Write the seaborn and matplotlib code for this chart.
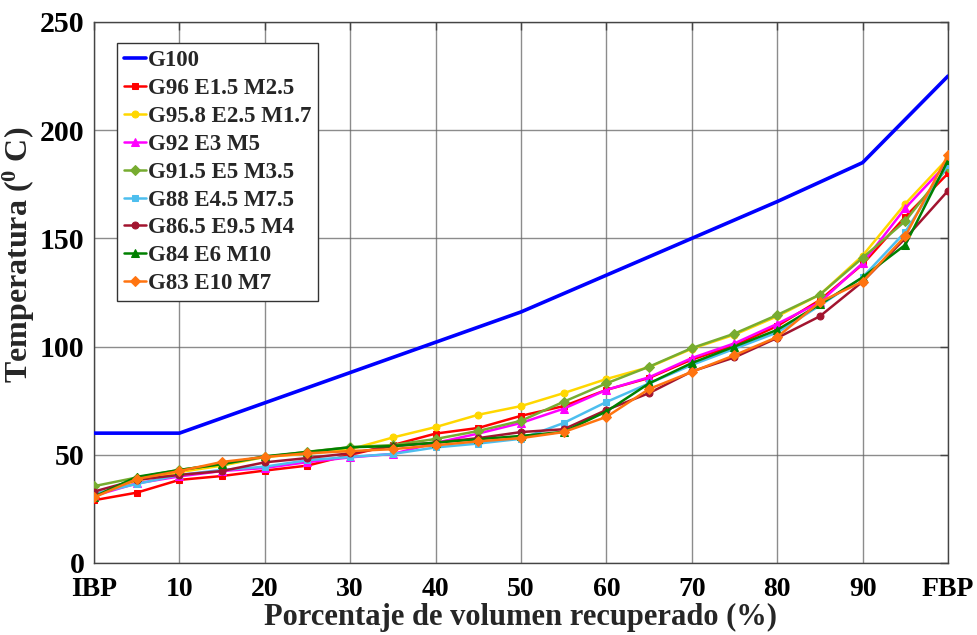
import matplotlib
matplotlib.use("Agg")
import matplotlib.pyplot as plt
import seaborn as sns
import pandas as pd

# Distillation curves: temperature vs. recovered volume
x_pct = [0, 5, 10, 15, 20, 25, 30, 35, 40, 45, 50, 55, 60, 65, 70, 75, 80, 85, 90, 95, 100]
x_g100 = [0, 10, 20, 30, 40, 50, 60, 70, 80, 90, 100]

g100 = [60, 60, 74, 88, 102, 116, 133, 150, 167, 185, 225]
g96 = [29, 32.5, 38.4, 40.2, 42.7, 45, 50, 54.5, 59.8, 62.4, 68, 72.5, 80, 85.5, 94, 100.5, 109.5, 121.5, 138, 160, 180]
g958 = [31, 38, 42, 45, 49, 50.5, 52.5, 58, 62.8, 68.5, 72.5, 78.5, 85, 90.5, 99, 105.5, 114, 124, 142, 166, 187]
g92 = [31, 36.8, 40, 42.5, 43.9, 46.6, 48.8, 50.4, 55.5, 59.8, 64.7, 71.3, 80, 85.8, 94.7, 101.5, 110.5, 120.5, 138.5, 164, 185]
g915 = [35.5, 39.5, 43, 45.7, 49, 51.4, 53.5, 54.5, 57.3, 61, 65.7, 74.5, 83, 90.7, 99.3, 106, 114.6, 124, 141, 158, 183]
g88 = [32, 36.5, 40.7, 43, 44.5, 47.5, 49, 50.4, 53.4, 55.2, 57.4, 64.7, 74.4, 83, 91.5, 99, 106.5, 119, 132, 153, 184]
g865 = [33, 38.4, 40.7, 42.5, 46.5, 48.5, 50.7, 54, 55.6, 57.7, 60.5, 61.8, 70.7, 78.5, 88.5, 95, 104, 114, 130, 150, 172]
g84 = [30.6, 39.8, 43, 45.7, 49.3, 51.3, 53.5, 54, 55.6, 57.2, 58.7, 60.6, 70, 83, 92.4, 100, 107.7, 119.5, 132, 147, 186]
g83 = [30.3, 38.8, 42.5, 46.7, 49, 50.7, 51.7, 52.6, 54.4, 56.2, 57.7, 60.5, 67.5, 80.4, 88.3, 96, 104.4, 120.6, 130, 151, 188.5]

blend_names = ["G96 E1.5 M2.5", "G95.8 E2.5 M1.7", "G92 E3 M5", "G91.5 E5 M3.5",
               "G88 E4.5 M7.5", "G86.5 E9.5 M4", "G84 E6 M10", "G83 E10 M7"]
blend_values = [g96, g958, g92, g915, g88, g865, g84, g83]
blend_colors = ["#ff0000", "#ffd700", "#ff00ff", "#77ac30", "#4dbeee", "#a2142f", "#008000", "#ff7410"]
blend_markers = ["s", "o", "^", "D", "s", "o", "^", "D"]

x_ticks = [0, 10, 20, 30, 40, 50, 60, 70, 80, 90, 100]
x_ticklabels = ["IBP", "10", "20", "30", "40", "50", "60", "70", "80", "90", "FBP"]
y_ticks = [0, 50, 100, 150, 200, 250]

sns.set_style("white")
plt.rcParams["font.family"] = ["Liberation Serif", "DejaVu Serif"]
plt.rcParams["font.weight"] = "bold"
plt.rcParams["mathtext.fontset"] = "custom"
plt.rcParams["mathtext.rm"] = "Liberation Serif:bold"
plt.rcParams["mathtext.bf"] = "Liberation Serif:bold"
plt.rcParams["mathtext.it"] = "Liberation Serif:bold"

fig = plt.figure(figsize=(9.77, 6.35), dpi=100)
ax = fig.add_axes([0.0962, 0.1134, 0.8741, 0.852])

df100 = pd.DataFrame({"x": x_g100, "y": g100})
sns.lineplot(data=df100, x="x", y="y", ax=ax, color="#0000ff", linewidth=2.6,
             label="G100", zorder=3)

for name, vals, col, mk in zip(blend_names, blend_values, blend_colors, blend_markers):
    d = pd.DataFrame({"x": x_pct, "y": vals})
    ms = 5.5 if mk in ("D", "^") else 5
    sns.lineplot(data=d, x="x", y="y", ax=ax, color=col, linewidth=1.8,
                 marker=mk, markersize=ms, markeredgecolor=col, markerfacecolor=col,
                 label=name, zorder=4)

ax.set_xlim(0, 100)
ax.set_ylim(0, 250)
ax.set_xticks(x_ticks)
ax.set_xticklabels(x_ticklabels)
ax.set_yticks(y_ticks)
ax.grid(True, color="#666666", linewidth=1.0, alpha=0.75)
ax.set_axisbelow(True)
for s in ax.spines.values():
    s.set_color("#444444")
    s.set_linewidth(1.0)
ax.tick_params(direction="in", length=6, width=1, colors="#444444",
               top=True, right=True, labelcolor="black")
ax.tick_params(axis="x", pad=10, labelsize=20)
ax.tick_params(axis="y", pad=7, labelsize=21.5)
for lab in ax.get_xticklabels() + ax.get_yticklabels():
    lab.set_fontweight("bold")

ax.set_xlabel("Porcentaje de volumen recuperado (%)", fontsize=22, fontweight="bold", labelpad=1)
ax.set_ylabel(r"Temperatura ($^{0}$ C)", fontsize=23, fontweight="bold")
ax.yaxis.set_label_coords(-0.067, 0.569)

leg = ax.legend(loc="upper left", bbox_to_anchor=(0.027, 0.961), borderaxespad=0,
                frameon=True, fancybox=False, framealpha=1,
                edgecolor="#333333", handlelength=0.95, handletextpad=0.1,
                labelspacing=0.3, borderpad=0.3, prop={"weight": "bold", "size": 16.5})
leg.get_frame().set_linewidth(1.0)

fig.savefig("out.png", dpi=100)
